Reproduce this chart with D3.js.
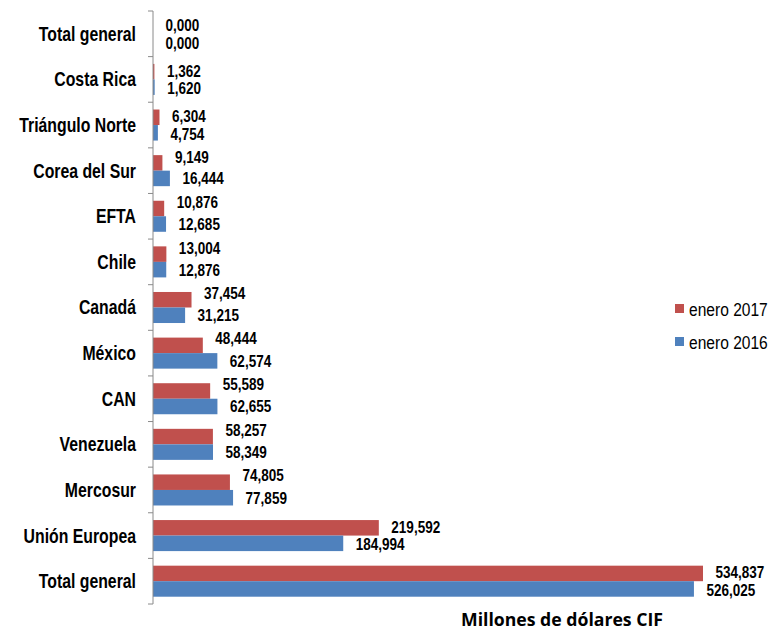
<!DOCTYPE html>
<html>
<head>
<meta charset="utf-8">
<script src="https://cdn.jsdelivr.net/npm/d3@7/dist/d3.min.js"></script>
<style>
  html, body { margin: 0; padding: 0; background: #fff; }
  svg { display: block; }
</style>
</head>
<body>
<svg id="chart" width="780" height="631"></svg>
<script>
const categories = ["Total general","Costa Rica","Triángulo Norte","Corea del Sur","EFTA","Chile","Canadá","México","CAN","Venezuela","Mercosur","Unión Europea","Total general"];
const seriesNames = ["enero 2017","enero 2016"];
const values2017 = [0, 1.362, 6.304, 9.149, 10.876, 13.004, 37.454, 48.444, 55.589, 58.257, 74.805, 219.592, 534.837];
const values2016 = [0, 1.620, 4.754, 16.444, 12.685, 12.876, 31.215, 62.574, 62.655, 58.349, 77.859, 184.994, 526.025];
const axisTitle = "Millones de dólares CIF";

// styling / layout config
const colors = ["#C0504D", "#4F81BD"];
const redLabelShift = [-1,-1,-1,-6,-6,-6,-7,-7,-7,-7,-7,-1,-1];
const blueLabelShift = [1,1,1,0,0,0,0,0,0,0,0,1,1];
const font = "'Liberation Sans', Arial, sans-serif";
const squeeze = 0.82; // emulate Arial Narrow

const svg = d3.select("#chart");
const axisX = 153;
const x = d3.scaleLinear().domain([0, 534.837]).range([axisX, 703]);
const y = d3.scaleBand().domain(d3.range(categories.length)).range([11, 604]).padding(0);
const ys = d3.scaleBand().domain([0, 1]).range([0, y.bandwidth()]).paddingInner(0).paddingOuter(0.47);

const loc = d3.formatLocale({decimal: ",", thousands: ".", grouping: [3], currency: ["", ""]});
const fmt = loc.format(".3f");

function narrowText(parent, tx, ty, str, size, weight, anchor) {
  return parent.append("text")
    .attr("transform", `translate(${tx},${ty}) scale(${squeeze},1)`)
    .attr("dy", "0.36em")
    .attr("text-anchor", anchor || "start")
    .attr("font-family", font)
    .attr("font-weight", weight)
    .attr("font-size", size + "px")
    .attr("fill", "#000")
    .text(str);
}

const rows = categories.map((c, i) => ({i, c, vals: [values2017[i], values2016[i]]}));

// bars
const g = svg.append("g");
rows.forEach(r => {
  r.vals.forEach((v, s) => {
    g.append("rect")
      .attr("x", x(0))
      .attr("y", y(r.i) + ys(s))
      .attr("width", Math.max(0, x(v) - x(0)))
      .attr("height", ys.bandwidth())
      .attr("fill", colors[s]);
    narrowText(g, x(v) + 12.5,
      y(r.i) + ys(s) + ys.bandwidth() / 2 + (s === 0 ? redLabelShift[r.i] : blueLabelShift[r.i]),
      fmt(v), 16.5, "bold");
  });
});

// axis (d3 axis for positions, labels re-drawn narrow)
const axis = d3.axisLeft(y).tickSize(0).tickPadding(16).tickFormat(i => categories[i]);
const ag = svg.append("g").attr("transform", `translate(${axisX},0)`).call(axis);
ag.select(".domain").remove();
ag.selectAll(".tick").each(function(i) {
  const t = d3.select(this);
  t.select("text").remove();
  narrowText(t, -17, 0, categories[i], 19.3, "bold", "end");
});
svg.append("line")
  .attr("x1", axisX).attr("x2", axisX)
  .attr("y1", y.range()[0]).attr("y2", y.range()[1])
  .attr("stroke", "#8a8a8a").attr("stroke-width", 1);
const bounds = d3.range(categories.length + 1).map(k => y.range()[0] + k * y.step());
svg.selectAll(".tk").data(bounds).join("line")
  .attr("x1", axisX - 5).attr("x2", axisX)
  .attr("y1", d => d).attr("y2", d => d)
  .attr("stroke", "#8a8a8a").attr("stroke-width", 1);

// legend
const lg = svg.append("g");
seriesNames.forEach((n, s) => {
  const ly = 309 + s * 33;
  lg.append("rect").attr("x", 675).attr("y", ly - 5).attr("width", 9).attr("height", 9).attr("fill", colors[s]);
  narrowText(lg, 689, ly, n, 19, "normal");
});

// axis title
svg.append("text")
  .attr("x", 562).attr("y", 626)
  .attr("text-anchor", "middle")
  .attr("font-family", "'Open Sans', sans-serif")
  .attr("font-weight", "bold")
  .attr("font-size", "18px")
  .attr("textLength", 202)
  .attr("lengthAdjust", "spacingAndGlyphs")
  .attr("fill", "#000")
  .text(axisTitle);
</script>
</body>
</html>
